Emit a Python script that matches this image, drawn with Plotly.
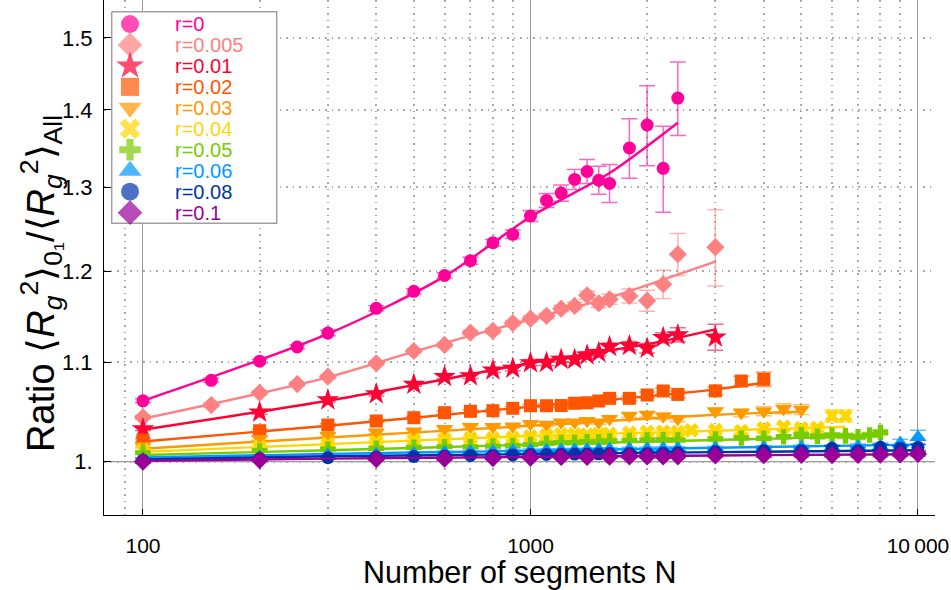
import plotly.graph_objects as go

# ------------------------------------------------------------------
# Ratio <Rg^2>_{0_1} / <Rg^2>_All versus chain length N, per r value
# ------------------------------------------------------------------
r_labels = ["r=0", "r=0.005", "r=0.01", "r=0.02", "r=0.03",
            "r=0.04", "r=0.05", "r=0.06", "r=0.08", "r=0.1"]

# r = 0
N_r0 = [100, 150, 200, 250, 300, 400, 500, 600, 700, 800, 900, 1000, 1100,
        1200, 1300, 1400, 1500, 1600, 1800, 2000, 2200, 2400]
ratio_r0 = [1.060, 1.081, 1.101, 1.116, 1.131, 1.158, 1.177, 1.195, 1.212,
            1.233, 1.243, 1.265, 1.284, 1.293, 1.310, 1.320, 1.309, 1.305,
            1.350, 1.380, 1.324, 1.416]
err_r0 = [0.002, 0.002, 0.002, 0.002, 0.003, 0.003, 0.003, 0.003, 0.004,
          0.004, 0.005, 0.0067, 0.0086, 0.0099, 0.0126, 0.0152, 0.0175,
          0.0237, 0.0384, 0.0528, 0.0545, 0.0497]
fitN_r0 = [100, 300, 600, 1000, 1600, 2400]
fit_r0 = [1.060, 1.130, 1.194, 1.264, 1.318, 1.383]

# r = 0.005
N_r005 = [100, 150, 200, 250, 300, 400, 500, 600, 700, 800, 900, 1000, 1100,
          1200, 1300, 1400, 1500, 1600, 1800, 2000, 2200, 2400, 3000]
ratio_r005 = [1.0434, 1.0557, 1.0682, 1.0771, 1.0847, 1.0987, 1.1117, 1.1182,
              1.1314, 1.1333, 1.1417, 1.1466, 1.1496, 1.1577, 1.1607, 1.1726,
              1.1637, 1.1681, 1.1718, 1.1666, 1.1850, 1.2195, 1.2278]
err_r005 = [0.002, 0.002, 0.002, 0.002, 0.002, 0.002, 0.002, 0.0025, 0.0025,
            0.003, 0.003, 0.003, 0.003, 0.0035, 0.004, 0.0045, 0.005, 0.0056,
            0.0079, 0.0117, 0.0159, 0.0245, 0.0447]
fitN_r005 = [100, 300, 500, 1000, 1600, 2000, 3000]
fit_r005 = [1.042, 1.084, 1.111, 1.146, 1.170, 1.184, 1.211]

# r = 0.01
N_r01 = [100, 200, 300, 400, 500, 600, 700, 800, 900, 1000, 1100, 1200, 1300,
         1400, 1500, 1600, 1800, 2000, 2200, 2400, 3000]
ratio_r01 = [1.0318, 1.0484, 1.0608, 1.0669, 1.0768, 1.0847, 1.0854, 1.0916,
             1.0934, 1.0991, 1.0995, 1.1029, 1.1029, 1.1074, 1.1099, 1.1163,
             1.1174, 1.1146, 1.1260, 1.1290, 1.1264]
err_r01 = [0.0015, 0.002, 0.002, 0.002, 0.002, 0.002, 0.0025, 0.0025, 0.0025,
           0.003, 0.003, 0.003, 0.003, 0.0035, 0.0035, 0.004, 0.0045, 0.005,
           0.0054, 0.0076, 0.014]
fitN_r01 = [100, 300, 500, 1000, 2000, 3000]
fit_r01 = [1.031, 1.060, 1.076, 1.099, 1.119, 1.135]

# r = 0.02
N_r02 = [100, 200, 300, 400, 500, 600, 700, 800, 900, 1000, 1100, 1200, 1300,
         1400, 1500, 1600, 1800, 2000, 2200, 2400, 3000, 3500, 4000]
ratio_r02 = [1.0210, 1.0301, 1.0357, 1.0397, 1.0430, 1.0480, 1.0494, 1.0500,
             1.0524, 1.0550, 1.0550, 1.0552, 1.0575, 1.0580, 1.0598, 1.0625,
             1.0625, 1.0659, 1.0700, 1.0665, 1.0701, 1.0802, 1.0820]
err_r02 = [0.0015] * 10 + [0.002] * 6 + [0.0025, 0.003, 0.003, 0.0035, 0.004,
                                          0.005, 0.0074]
fitN_r02 = [100, 300, 1000, 2000, 3000, 4000]
fit_r02 = [1.0195, 1.035, 1.054, 1.0645, 1.0717, 1.0785]

# r = 0.03
N_r03 = [100, 200, 300, 400, 500, 600, 700, 800, 900, 1000, 1100, 1200, 1300,
         1400, 1500, 1600, 1800, 2000, 2200, 2400, 3000, 3500, 4000, 4500, 5000]
ratio_r03 = [1.0150, 1.0222, 1.0254, 1.0286, 1.0296, 1.0320, 1.0340, 1.0340,
             1.0346, 1.0370, 1.0362, 1.0385, 1.0385, 1.0399, 1.0385, 1.0419,
             1.0452, 1.0462, 1.0445, 1.0419, 1.0495, 1.0479, 1.0495, 1.0519,
             1.0512]
err_r03 = [0.0015] * 10 + [0.002] * 6 + [0.002, 0.0025, 0.003, 0.003, 0.0035,
                                          0.004, 0.0045, 0.005, 0.005]
fitN_r03 = [100, 300, 1000, 3000, 5000]
fit_r03 = [1.0125, 1.0235, 1.035, 1.046, 1.049]

# r = 0.04
N_r04 = [100, 200, 300, 400, 500, 600, 700, 800, 900, 1000, 1100, 1200, 1300,
         1400, 1500, 1600, 1800, 2000, 2200, 2400, 2600, 3000, 3500, 4000,
         4500, 5000, 5500, 6000, 6500]
ratio_r04 = [1.0113, 1.0144, 1.0171, 1.0193, 1.0210, 1.0217, 1.0226, 1.0226,
             1.0230, 1.0245, 1.0255, 1.0265, 1.0265, 1.0262, 1.0268, 1.0270,
             1.0281, 1.0290, 1.0291, 1.0290, 1.0305, 1.0308, 1.0298, 1.0325,
             1.0341, 1.0325, 1.0328, 1.0447, 1.0447]
err_r04 = [0.0015] * 10 + [0.002] * 17 + [0.006, 0.006]
fitN_r04 = [100, 300, 1000, 3000, 6500]
fit_r04 = [1.0095, 1.017, 1.025, 1.030, 1.034]

# r = 0.05
N_r05 = [100, 200, 300, 400, 500, 600, 700, 800, 900, 1000, 1100, 1200, 1300,
         1400, 1500, 1600, 1800, 2000, 2200, 2400, 3000, 3500, 4000, 4500,
         5000, 5500, 6000, 6500, 7000, 7500, 8000]
ratio_r05 = [1.0086, 1.0106, 1.0122, 1.0129, 1.0139, 1.0144, 1.0144, 1.0151,
             1.0155, 1.0165, 1.0178, 1.0185, 1.0185, 1.0193, 1.0190, 1.0200,
             1.0205, 1.0210, 1.0212, 1.0210, 1.0220, 1.0230, 1.0226, 1.0242,
             1.0260, 1.0245, 1.0255, 1.0250, 1.0240, 1.0259, 1.0285]
err_r05 = [0.0015] * 10 + [0.002] * 14 + [0.0025] * 7
fitN_r05 = [100, 300, 1000, 3000, 8000]
fit_r05 = [1.0065, 1.011, 1.0165, 1.021, 1.025]

# r = 0.06
N_r06 = [100, 200, 300, 400, 500, 600, 700, 800, 900, 1000, 1100, 1200, 1300,
         1400, 1500, 1600, 1800, 2000, 2200, 2400, 3000, 4000, 5000, 6000,
         7000, 8000, 9000, 10000]
ratio_r06 = [1.0025, 1.0045, 1.0064, 1.0072, 1.0078, 1.0088, 1.0096, 1.0098,
             1.0105, 1.0108, 1.0110, 1.0112, 1.0112, 1.0115, 1.0115, 1.0120,
             1.0120, 1.0122, 1.0125, 1.0125, 1.0130, 1.0135, 1.0140, 1.0138,
             1.0145, 1.0150, 1.0178, 1.0236]
err_r06 = [0.0015] * 16 + [0.002] * 8 + [0.0025, 0.003, 0.004, 0.007]
fitN_r06 = [100, 300, 1000, 3000, 10000]
fit_r06 = [1.004, 1.0075, 1.0105, 1.0135, 1.0165]

# r = 0.08
N_r08 = [100, 200, 300, 400, 500, 600, 700, 800, 900, 1000, 1100, 1200, 1300,
         1400, 1500, 1600, 1800, 2000, 2200, 2400, 3000, 4000, 5000, 6000,
         7000, 8000, 9000, 10000]
ratio_r08 = [1.0015, 1.0030, 1.0038, 1.0045, 1.0050, 1.0055, 1.0060, 1.0060,
             1.0065, 1.0068, 1.0070, 1.0072, 1.0073, 1.0075, 1.0076, 1.0078,
             1.0080, 1.0080, 1.0082, 1.0085, 1.0096, 1.0106, 1.0106, 1.0129,
             1.0106, 1.0139, 1.0129, 1.0139]
err_r08 = [0.0015] * 20 + [0.002, 0.002, 0.0025, 0.0025, 0.003, 0.003,
                           0.003, 0.003]
fitN_r08 = [100, 300, 1000, 3000, 10000]
fit_r08 = [1.0022, 1.0052, 1.0072, 1.0092, 1.011]

# r = 0.1
N_r1 = [100, 200, 400, 600, 800, 1000, 1200, 1400, 1600, 1800, 2000, 2200,
        2400, 3000, 4000, 5000, 6000, 7000, 8000, 9000, 10000]
ratio_r1 = [1.0000, 1.0016, 1.0025, 1.0030, 1.0035, 1.0040, 1.0045, 1.0045,
            1.0048, 1.0050, 1.0050, 1.0050, 1.0052, 1.0060, 1.0062, 1.0066,
            1.0064, 1.0066, 1.0068, 1.0070, 1.0075]
err_r1 = [0.0015] * 14 + [0.002] * 7
fitN_r1 = [100, 300, 1000, 3000, 10000]
fit_r1 = [1.0008, 1.003, 1.0045, 1.006, 1.0072]

x_tickvals = [100, 1000, 10000]
x_ticktext = ["100", "1000", "10\u2009000"]
x_minor = [90, 200, 300, 400, 500, 600, 700, 800, 900,
           2000, 3000, 4000, 5000, 6000, 7000, 8000, 9000]
y_tickvals = [1.0, 1.1, 1.2, 1.3, 1.4, 1.5]
y_ticktext = ["1.", "1.1", "1.2", "1.3", "1.4", "1.5"]

# ------------------------------------------------------------------
# styling
# ------------------------------------------------------------------
FONT = "Liberation Sans, Arial, Helvetica, sans-serif"
colors = ["#FF0099", "#FF8080", "#FF0033", "#FF5500", "#FF9900",
          "#FFD700", "#77CC00", "#0099FF", "#0033AA", "#990099"]
symbols = ["circle", "diamond", "star", "square", "triangle-down",
           "x", "cross", "triangle-up", "circle", "diamond"]
plot_sizes = [13, 14, 17, 13, 15, 13, 13, 15, 13, 14]
legend_sizes = [18, 19, 21, 18, 20, 18, 18, 20, 18, 19]

series = [
    (N_r0, ratio_r0, err_r0, fitN_r0, fit_r0),
    (N_r005, ratio_r005, err_r005, fitN_r005, fit_r005),
    (N_r01, ratio_r01, err_r01, fitN_r01, fit_r01),
    (N_r02, ratio_r02, err_r02, fitN_r02, fit_r02),
    (N_r03, ratio_r03, err_r03, fitN_r03, fit_r03),
    (N_r04, ratio_r04, err_r04, fitN_r04, fit_r04),
    (N_r05, ratio_r05, err_r05, fitN_r05, fit_r05),
    (N_r06, ratio_r06, err_r06, fitN_r06, fit_r06),
    (N_r08, ratio_r08, err_r08, fitN_r08, fit_r08),
    (N_r1, ratio_r1, err_r1, fitN_r1, fit_r1),
]


def rgba(hex_color, alpha):
    h = hex_color.lstrip("#")
    r, g, b = int(h[0:2], 16), int(h[2:4], 16), int(h[4:6], 16)
    return f"rgba({r},{g},{b},{alpha})"


fig = go.Figure()

for i, (n, ratio, err, fit_n, fit_y) in enumerate(series):
    col = colors[i]
    fig.add_trace(go.Scatter(
        x=fit_n, y=fit_y, mode="lines",
        line=dict(color=col, width=2.4, shape="spline", smoothing=0.8),
        hoverinfo="skip", showlegend=False))
    fig.add_trace(go.Scatter(
        x=n, y=ratio, mode="markers", name=r_labels[i],
        marker=dict(symbol=symbols[i], size=plot_sizes[i], color=col,
                    line=dict(width=0)),
        error_y=dict(type="data", array=err, color=rgba(col, 0.6),
                     thickness=1.5, width=8),
        showlegend=False))

# legend panel (drawn in a pixel-like overlay frame of the plot area)
PLOT_W, PLOT_H = 831, 515
box_x = [7.7, 172.7, 172.7, 7.7, 7.7]
box_y = [11.7, 11.7, 223.3, 223.3, 11.7]
fig.add_trace(go.Scatter(
    x=box_x, y=box_y, xaxis="x2", yaxis="y2", mode="lines",
    fill="toself", fillcolor="white",
    line=dict(color="#a0a0a0", width=1.5),
    hoverinfo="skip", showlegend=False))

row0, row_step = 24.0, 20.96
rows = [row0 + k * row_step for k in range(len(r_labels))]
fig.add_trace(go.Scatter(
    x=[26] * len(r_labels), y=rows, xaxis="x2", yaxis="y2", mode="markers",
    marker=dict(symbol=symbols, size=legend_sizes, color=colors,
                line=dict(width=0)),
    hoverinfo="skip", showlegend=False))

annotations = []
for k, lab in enumerate(r_labels):
    annotations.append(dict(
        x=70, y=rows[k], xref="x2", yref="y2", text=lab, showarrow=False,
        xanchor="left", yanchor="middle", borderpad=0,
        font=dict(family=FONT, size=20, color=colors[k])))

# axis titles
ytitle = ("Ratio \u27e8<i>R</i><sub><i>g</i></sub><sup>2</sup>\u27e9"
          "<sub>0\u2081</sub>/\u27e8<i>R</i><sub><i>g</i></sub>"
          "<sup>2</sup>\u27e9<sub>All</sub>")
annotations.append(dict(
    text=ytitle, textangle=-90, showarrow=False,
    xref="paper", yref="paper", x=-0.076, y=0.45,
    xanchor="center", yanchor="middle",
    font=dict(family=FONT, size=38, color="black")))
annotations.append(dict(
    text="Number of segments N", showarrow=False,
    xref="paper", yref="paper", x=0.5, y=-0.111,
    xanchor="center", yanchor="middle",
    font=dict(family=FONT, size=30.5, color="black")))

fig.update_layout(
    width=951, height=590,
    margin=dict(l=104, r=16, t=0, b=75),
    paper_bgcolor="white", plot_bgcolor="white",
    font=dict(family=FONT, color="black"),
    showlegend=False,
    annotations=annotations,
    xaxis=dict(
        type="log", range=[1.8994, 4.0439],
        tickvals=x_tickvals, ticktext=x_ticktext,
        tickfont=dict(size=21, family=FONT, color="black"),
        ticks="inside", ticklen=6, tickcolor="black",
        ticklabelstandoff=12,
        showline=True, linecolor="black", linewidth=1, mirror=False,
        showgrid=True, gridcolor="#9a9a9a", gridwidth=1.2,
        zeroline=False,
        minor=dict(tickvals=x_minor, showgrid=True, gridcolor="#a8a8a8",
                   griddash="1.5px,5px", gridwidth=1.5, ticks=""),
    ),
    yaxis=dict(
        type="log", range=[-0.02214, 0.19182],
        tickvals=y_tickvals, ticktext=y_ticktext,
        tickfont=dict(size=22, family=FONT, color="black"),
        ticks="inside", ticklen=7, tickcolor="black",
        ticklabelstandoff=6,
        showline=True, linecolor="black", linewidth=1, mirror=False,
        showgrid=True, gridcolor="#a8a8a8", griddash="1.5px,5px",
        gridwidth=1.5, zeroline=False,
    ),
    xaxis2=dict(overlaying="x", anchor="y2", range=[0, PLOT_W],
                visible=False, fixedrange=True),
    yaxis2=dict(overlaying="y", anchor="x2", range=[PLOT_H, 0],
                visible=False, fixedrange=True),
    shapes=[dict(type="line", xref="paper", x0=0, x1=1, yref="y",
                 y0=1.0, y1=1.0, layer="between",
                 line=dict(color="#9a9a9a", width=1.2))],
)

fig.write_html("out.html")
